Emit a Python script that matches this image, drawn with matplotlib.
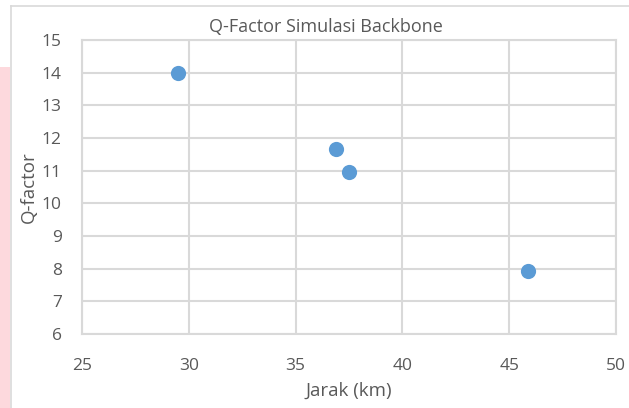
import matplotlib
matplotlib.use('Agg')
import matplotlib.pyplot as plt
from matplotlib.patches import Rectangle
from matplotlib.lines import Line2D

# data
jarak_km = [29.5, 36.9, 37.5, 45.9]
q_factor = [14.0, 11.67, 10.95, 7.94]
x_ticks = [25, 30, 35, 40, 45, 50]
y_ticks = [6, 7, 8, 9, 10, 11, 12, 13, 14, 15]

TEXT_COLOR = '#595959'
GRID_COLOR = '#D9D9D9'
POINT_COLOR = '#5B9BD5'

plt.rcParams['font.family'] = ['Open Sans', 'DejaVu Sans']

fig = plt.figure(figsize=(6.29, 4.08), dpi=100)
W, H = 629, 408

# pink strip on the left and the chart frame
fig.patches.append(Rectangle((0, 0), 10 / W, 1 - 67 / H, transform=fig.transFigure,
                             facecolor='#FDD9DD', edgecolor='none'))
fig.lines.append(Line2D([11 / W, 1], [1 - 6 / H, 1 - 6 / H], transform=fig.transFigure,
                        color=GRID_COLOR, lw=1.2))
fig.lines.append(Line2D([11 / W, 11 / W], [0, 1 - 6 / H], transform=fig.transFigure,
                        color=GRID_COLOR, lw=1.2))

ax = fig.add_axes([82 / W, 1 - 334 / H, (616 - 82) / W, (334 - 40) / H])
ax.scatter(jarak_km, q_factor, s=120, color=POINT_COLOR, zorder=3, linewidths=0)

ax.set_xlim(x_ticks[0], x_ticks[-1])
ax.set_ylim(y_ticks[0], y_ticks[-1])
ax.set_xticks(x_ticks)
ax.set_yticks(y_ticks)
ax.grid(True, color=GRID_COLOR, lw=1.5)
ax.set_axisbelow(True)
for s in ax.spines.values():
    s.set_color(GRID_COLOR)
    s.set_linewidth(1.5)
ax.tick_params(length=0, labelsize=12.5, colors=TEXT_COLOR)
ax.tick_params(axis='x', pad=17.5)
ax.tick_params(axis='y', pad=14.5)

ax.set_xlabel('Jarak (km)', fontsize=13.5, color=TEXT_COLOR, ha='center', va='center')
ax.set_ylabel('Q-factor', fontsize=13.5, color=TEXT_COLOR, ha='center', va='center')
ax.xaxis.set_label_coords(0.5, (334 - 391) / 294)
ax.yaxis.set_label_coords((29 - 82) / 534, 0.5)
fig.text(326 / W, 1 - 27 / H, 'Q-Factor Simulasi Backbone', ha='center', va='center',
         fontsize=13, color=TEXT_COLOR)

fig.savefig('out.png', dpi=100)
